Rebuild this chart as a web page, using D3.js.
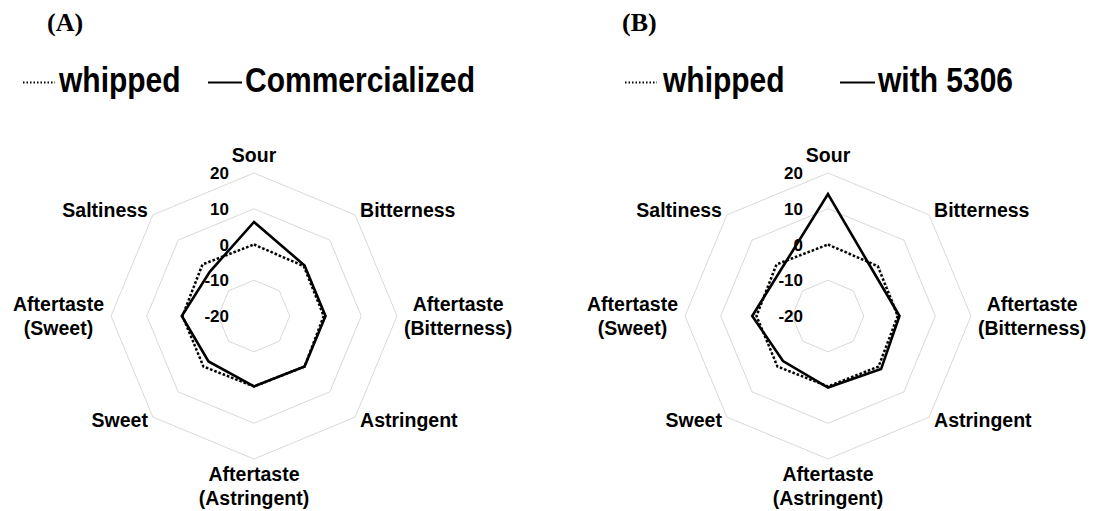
<!DOCTYPE html>
<html>
<head>
<meta charset="utf-8">
<script src="https://cdn.jsdelivr.net/npm/d3@7"></script>
<style>
  html, body { margin: 0; padding: 0; background: #fff; }
  svg { display: block; }
</style>
</head>
<body>
<svg id="chart" width="1093" height="511"></svg>
<script>
// ---- data ----
const categories = ["Sour", "Bitterness", "Aftertaste\n(Bitterness)", "Astringent",
                    "Aftertaste\n(Astringent)", "Sweet", "Aftertaste\n(Sweet)", "Saltiness"];
const tickValues = [-20, -10, 0, 10, 20];
const whipped        = [0, -0.3, -0.5, 0, -0.3, 0, 0, 0.4];
const commercialized = [6.3, 0, 0, 0, -0.3, -2, 0.2, -2.5];
const with5306       = [14.1, -2.2, 0, 1, 0, -2.2, 1.2, -1.5];
const panelLabels = ["(A)", "(B)"];
const seriesNamesA = ["whipped", "Commercialized"];
const seriesNamesB = ["whipped", "with 5306"];

// ---- layout ----
const svg = d3.select("#chart");
const R = 143;
const r = d3.scaleLinear().domain([-20, 20]).range([0, R]);
const n = categories.length;
const angle = i => (i / n) * 2 * Math.PI; // clockwise from top
const px = (i, v) => Math.sin(angle(i)) * r(v);
const py = (i, v) => -Math.cos(angle(i)) * r(v);

const catFont = "'Liberation Sans', Arial, sans-serif";

function drawPanel(cx, cy, label, labelX, seriesVals, names, leg) {
  const g = svg.append("g").attr("transform", `translate(${cx},${cy})`);

  // grid rings (skip -20 at center)
  tickValues.filter(t => t > -20).forEach(t => {
    const pts = d3.range(n).map(i => [px(i, t), py(i, t)]);
    g.append("path")
      .attr("d", d3.line()(pts) + "Z")
      .attr("fill", "none")
      .attr("stroke", "#d9d9d9")
      .attr("stroke-width", 1);
  });

  // series
  const lineGen = d3.line().x((d, i) => px(i, d)).y((d, i) => py(i, d));
  g.append("path")
    .attr("d", lineGen(seriesVals[0]) + "Z")
    .attr("fill", "none").attr("stroke", "#000")
    .attr("stroke-width", 2.5).attr("stroke-dasharray", "2.5,2");
  g.append("path")
    .attr("d", lineGen(seriesVals[1]) + "Z")
    .attr("fill", "none").attr("stroke", "#000")
    .attr("stroke-width", 2.6).attr("stroke-linejoin", "miter");

  // tick labels
  tickValues.forEach(t => {
    g.append("text")
      .attr("x", -25).attr("y", -r(t))
      .attr("dy", "0.36em")
      .attr("text-anchor", "end")
      .attr("font-family", catFont).attr("font-weight", "bold")
      .attr("font-size", 17).attr("fill", "#000")
      .text(t);
  });

  // category labels
  categories.forEach((c, i) => {
    const lines = c.split("\n");
    const a = angle(i);
    const sx = Math.sin(a), cyv = -Math.cos(a);
    const t = g.append("text")
      .attr("font-family", catFont).attr("font-weight", "bold")
      .attr("font-size", 19.5).attr("fill", "#000");
    lines.forEach((ln, k) => t.append("tspan").text(ln));
    const lh = 23.5;
    const widths = [];
    t.selectAll("tspan").each(function () { widths.push(this.getComputedTextLength()); });
    const maxW = d3.max(widths);
    let x, y0, anchor;
    if (Math.abs(sx) < 0.01) { // top/bottom
      anchor = "middle"; x = 0;
      if (cyv < 0) y0 = -161 - (lines.length - 1) * lh;
      else y0 = 158;
    } else if (Math.abs(cyv) < 0.01) { // left/right
      anchor = "middle";
      x = sx * (150 + maxW / 2);
      y0 = -((lines.length - 1) * lh) / 2;
    } else { // diagonals
      anchor = sx > 0 ? "start" : "end";
      x = sx * 150;
      y0 = cyv * 150 - ((lines.length - 1) * lh) / 2 - (cyv > 0 ? 2 : 0);
    }
    t.attr("text-anchor", anchor);
    t.selectAll("tspan").each(function (d, k) {
      d3.select(this).attr("x", x).attr("y", y0 + k * lh).attr("dy", "0.36em");
    });
  });

  // panel label
  svg.append("text")
    .attr("x", labelX).attr("y", 31)
    .attr("font-family", "'Liberation Serif', 'Times New Roman', serif")
    .attr("font-weight", "bold").attr("font-size", 26)
    .text(label);

  // legend
  const ly = 82.5;
  svg.append("line")
    .attr("x1", leg[0]).attr("x2", leg[1]).attr("y1", ly).attr("y2", ly)
    .attr("stroke", "#000").attr("stroke-width", 2).attr("stroke-dasharray", "1.5,2");
  svg.append("text")
    .attr("transform", `translate(${leg[2]},92) scale(1,1.14)`)
    .attr("font-family", catFont).attr("font-weight", "bold").attr("font-size", 30)
    .text(names[0]);
  svg.append("line")
    .attr("x1", leg[3]).attr("x2", leg[4]).attr("y1", ly).attr("y2", ly)
    .attr("stroke", "#000").attr("stroke-width", 2.2);
  svg.append("text")
    .attr("transform", `translate(${leg[5]},92) scale(1,1.14)`)
    .attr("font-family", catFont).attr("font-weight", "bold").attr("font-size", 30)
    .text(names[1]);
}

drawPanel(254, 316, panelLabels[0], 47, [whipped, commercialized], seriesNamesA,
          [23, 55, 59, 208, 242, 245]);
drawPanel(828, 316, panelLabels[1], 622, [whipped, with5306], seriesNamesB,
          [625, 657, 663, 840, 875, 878]);
</script>
</body>
</html>
